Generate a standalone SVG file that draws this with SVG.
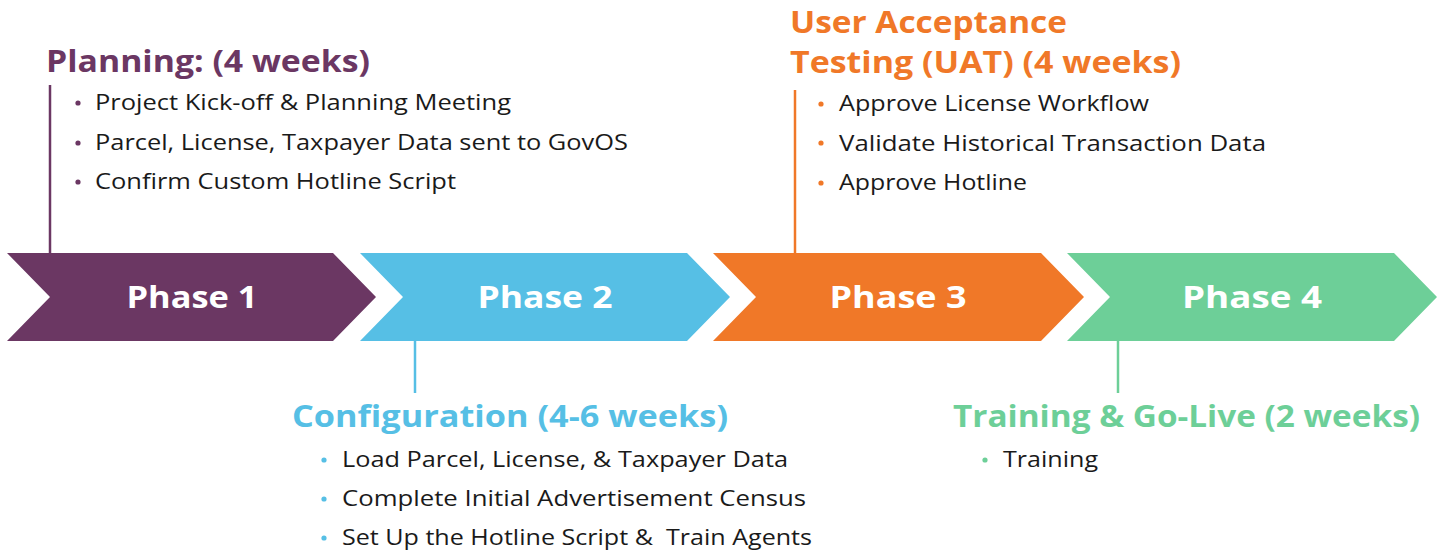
<svg xmlns="http://www.w3.org/2000/svg" width="1445" height="554" viewBox="0 0 1445 554">
<style>
.body{font-family:"Open Sans","Noto Sans",sans-serif;font-size:22px;fill:#1a1a1a;white-space:pre}
.head{font-family:"Open Sans","Noto Sans",sans-serif;font-size:31px;font-weight:700}
.ph{font-family:"Open Sans","Noto Sans",sans-serif;font-size:30px;font-weight:700;fill:#ffffff;text-anchor:middle}
.p1{fill:#6B3763}.p2{fill:#56BFE5}.p3{fill:#F07828}.p4{fill:#6DCF98}
.l1{stroke:#6B3763}.l2{stroke:#56BFE5}.l3{stroke:#F07828}.l4{stroke:#6DCF98}
line{stroke-width:2.5}
</style>
<rect width="1445" height="554" fill="#ffffff"/>
<g id="connectors">
<line class="l1" x1="50" y1="85" x2="50" y2="254"/>
<line class="l2" x1="415" y1="340" x2="415" y2="393"/>
<line class="l3" x1="795" y1="90" x2="795" y2="254"/>
<line class="l4" x1="1118" y1="340" x2="1118" y2="393"/>
</g>
<g id="phase1">
<polygon class="p1" points="7,253 333,253 376,297 333,341 7,341 50,297"/>
<text class="ph" x="192" y="308" textLength="131" lengthAdjust="spacingAndGlyphs">Phase 1</text>
</g>
<g id="phase2">
<polygon class="p2" points="360,253 687,253 730,297 687,341 360,341 403,297"/>
<text class="ph" x="545" y="308" textLength="135" lengthAdjust="spacingAndGlyphs">Phase 2</text>
</g>
<g id="phase3">
<polygon class="p3" points="713,253 1041,253 1084,297 1041,341 713,341 756,297"/>
<text class="ph" x="898" y="308" textLength="137" lengthAdjust="spacingAndGlyphs">Phase 3</text>
</g>
<g id="phase4">
<polygon class="p4" points="1067,253 1394,253 1437,297 1394,341 1067,341 1110,297"/>
<text class="ph" x="1252" y="308" textLength="140" lengthAdjust="spacingAndGlyphs">Phase 4</text>
</g>
<g id="planning">
<text class="head p1" x="46" y="72" textLength="324" lengthAdjust="spacingAndGlyphs">Planning: (4 weeks)</text>
<circle class="p1" cx="78" cy="103" r="2.6"/>
<circle class="p1" cx="78" cy="143" r="2.6"/>
<circle class="p1" cx="78" cy="182" r="2.6"/>
<text class="body" x="95" y="110" textLength="416" lengthAdjust="spacingAndGlyphs">Project Kick-off &amp; Planning Meeting</text>
<text class="body" x="95" y="150" textLength="533" lengthAdjust="spacingAndGlyphs">Parcel, License, Taxpayer Data sent to GovOS</text>
<text class="body" x="95" y="189" textLength="361" lengthAdjust="spacingAndGlyphs">Confirm Custom Hotline Script</text>
</g>
<g id="uat">
<text class="head p3" x="790" y="33" textLength="277" lengthAdjust="spacingAndGlyphs">User Acceptance</text>
<text class="head p3" x="790" y="73" textLength="391" lengthAdjust="spacingAndGlyphs">Testing (UAT) (4 weeks)</text>
<circle class="p3" cx="821" cy="104" r="2.6"/>
<circle class="p3" cx="821" cy="143" r="2.6"/>
<circle class="p3" cx="821" cy="183" r="2.6"/>
<text class="body" x="839" y="111" textLength="310" lengthAdjust="spacingAndGlyphs">Approve License Workflow</text>
<text class="body" x="839" y="151" textLength="427" lengthAdjust="spacingAndGlyphs">Validate Historical Transaction Data</text>
<text class="body" x="839" y="190" textLength="188" lengthAdjust="spacingAndGlyphs">Approve Hotline</text>
</g>
<g id="configuration">
<text class="head p2" x="292" y="427" textLength="436" lengthAdjust="spacingAndGlyphs">Configuration (4-6 weeks)</text>
<circle class="p2" cx="324" cy="460" r="2.6"/>
<circle class="p2" cx="324" cy="499" r="2.6"/>
<circle class="p2" cx="324" cy="538" r="2.6"/>
<text class="body" x="342" y="467" textLength="446" lengthAdjust="spacingAndGlyphs">Load Parcel, License, &amp; Taxpayer Data</text>
<text class="body" x="342" y="506" textLength="464" lengthAdjust="spacingAndGlyphs">Complete Initial Advertisement Census</text>
<text class="body" x="342" y="545" textLength="470" lengthAdjust="spacingAndGlyphs">Set Up the Hotline Script &amp;  Train Agents</text>
</g>
<g id="training">
<text class="head p4" x="953" y="427" textLength="467" lengthAdjust="spacingAndGlyphs">Training &amp; Go-Live (2 weeks)</text>
<circle class="p4" cx="985" cy="460" r="2.6"/>
<text class="body" x="1003" y="467" textLength="95" lengthAdjust="spacingAndGlyphs">Training</text>
</g>
</svg>
